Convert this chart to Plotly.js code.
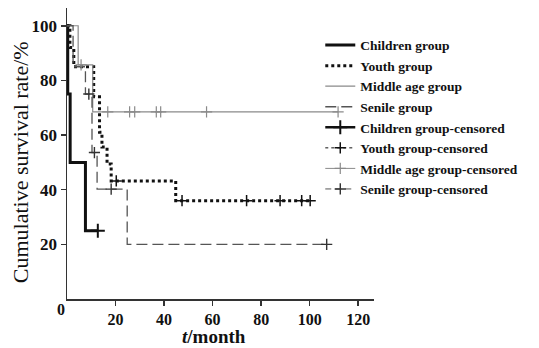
<!DOCTYPE html>
<html><head><meta charset="utf-8">
<script src="https://cdn.plot.ly/plotly-3.0.1.min.js"></script>
<style>html,body{margin:0;padding:0;background:#fff}#chart{width:539px;height:348px}</style>
</head><body><div id="chart"></div>
<script>
// Step curves (time in months, survival %)
const childrenT = [0, 0.3, 1.3, 7.6, 12.7];
const childrenS = [100, 75, 50, 25, 25];
const youthT = [0, 1.2, 2.8, 11.0, 13.4, 14.4, 16.5, 18.2, 44.8, 100.2];
const youthS = [100, 92, 85, 74, 61, 55.6, 49.4, 43.2, 36, 36];
const middleT = [0, 4.6, 10.6, 111.7];
const middleS = [100, 85.7, 68.5, 68.5];
const senileT = [0, 2.5, 7.6, 10.3, 12.4, 24.8, 107];
const senileS = [100, 85, 75, 53.6, 40.2, 20, 20];
// Censored observations
const childrenCT = [12.7];
const childrenCS = [25];
const youthCT = [20.3, 47.4, 74, 87.8, 96.7, 100.2];
const youthCS = [43.2, 36, 36, 36, 36, 36];
const middleCT = [5.8, 16.8, 25.8, 27.9, 36.8, 38.6, 57.5, 111.7];
const middleCS = [85.7, 68.5, 68.5, 68.5, 68.5, 68.5, 68.5, 68.5];
const senileCT = [9.0, 11.3, 18.2, 107];
const senileCS = [75, 53.6, 40.2, 20];
const xTicks = [20, 40, 60, 80, 100, 120];
const yTicks = [20, 40, 60, 80, 100];

function gap(a){const o=[];a.forEach((v,i)=>{o.push(v);if(i<a.length-1)o.push(null);});return o;}

const serif = 'Liberation Serif, Times New Roman, serif';
const traces = [
  {x: childrenT, y: childrenS, name: 'Children group', mode: 'lines', line: {shape: 'hv', color: '#111', width: 3}},
  {x: youthT, y: youthS, name: 'Youth group', mode: 'lines', line: {shape: 'hv', color: '#111', width: 3, dash: 'dot'}},
  {x: middleT, y: middleS, name: 'Middle age group', mode: 'lines', line: {shape: 'hv', color: '#8a8a8a', width: 1.2}},
  {x: senileT, y: senileS, name: 'Senile group', mode: 'lines', line: {shape: 'hv', color: '#555', width: 1.3, dash: '11px,5px'}},
  {x: gap(childrenCT), y: gap(childrenCS), name: 'Children group-censored', mode: 'lines+markers', connectgaps: false,
   line: {color: '#111', width: 2.5}, marker: {symbol: 'cross-thin', size: 10, line: {color: '#111', width: 2}}},
  {x: gap(youthCT), y: gap(youthCS), name: 'Youth group-censored', mode: 'lines+markers', connectgaps: false,
   line: {color: '#111', width: 1, dash: 'dot'}, marker: {symbol: 'cross-thin', size: 8, line: {color: '#111', width: 1.5}}},
  {x: gap(middleCT), y: gap(middleCS), name: 'Middle age group-censored', mode: 'lines+markers', connectgaps: false,
   line: {color: '#8a8a8a', width: 1}, marker: {symbol: 'cross-thin', size: 8, line: {color: '#8a8a8a', width: 1.2}}},
  {x: gap(senileCT), y: gap(senileCS), name: 'Senile group-censored', mode: 'lines+markers', connectgaps: false,
   line: {color: '#555', width: 1, dash: '6px,4px'}, marker: {symbol: 'cross-thin', size: 8, line: {color: '#333', width: 1.4}}}
];

const layout = {
  width: 539, height: 348,
  margin: {l: 67, r: 165, t: 8, b: 49},
  paper_bgcolor: '#fff', plot_bgcolor: '#fff',
  showlegend: true,
  legend: {x: 0.825, y: 0.925, xanchor: 'left', yanchor: 'top', bgcolor: 'rgba(0,0,0,0)',
    font: {family: serif, size: 13.5, color: '#111', weight: 'bold'}, itemwidth: 30},
  xaxis: {range: [0, 126.5], tickvals: xTicks, ticktext: xTicks.map(String),
    showline: true, linecolor: '#333', linewidth: 1.5, ticks: 'outside', ticklen: 5, tickcolor: '#333', tickwidth: 1.5,
    showgrid: false, zeroline: false, tickfont: {family: serif, size: 16, color: '#111', weight: 'bold'}},
  yaxis: {range: [0, 106.5], tickvals: yTicks, ticktext: yTicks.map(String),
    showline: true, linecolor: '#333', linewidth: 1.5, ticks: 'outside', ticklen: 5, tickcolor: '#333', tickwidth: 1.5,
    showgrid: false, zeroline: false, tickfont: {family: serif, size: 17, color: '#111', weight: 'bold'}},
  annotations: [
    {text: '0', xref: 'paper', yref: 'paper', x: -0.039, y: -0.072, showarrow: false,
     font: {family: serif, size: 16, color: '#111', weight: 'bold'}},
    {text: '<i>t</i>/month', xref: 'paper', yref: 'paper', x: 0.48, y: -0.1684, yanchor: 'bottom', showarrow: false,
     borderpad: 0, font: {family: serif, size: 19, color: '#111', weight: 'bold'}},
    {text: 'Cumulative survival rate/%', xref: 'paper', yref: 'paper', x: -0.153, y: 0.47, xanchor: 'center', yanchor: 'middle',
     textangle: -90, showarrow: false, font: {family: serif, size: 22, color: '#111'}}
  ]
};
Plotly.newPlot('chart', traces, layout, {staticPlot: true, displayModeBar: false});
</script></body></html>
